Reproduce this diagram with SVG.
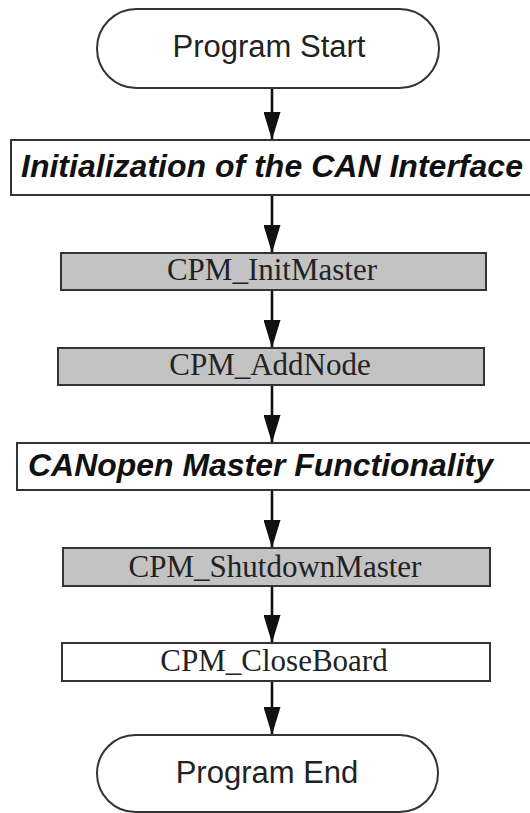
<svg xmlns="http://www.w3.org/2000/svg" width="530" height="813" viewBox="0 0 530 813">
  <style>
    .box { stroke: #333; stroke-width: 2; }
    .plain { fill: #fff; }
    .shade { fill: #c3c3c3; }
    .sans { font-family: "Liberation Sans", Arial, sans-serif; font-size: 31px; fill: #222; text-anchor: middle; }
    .head { font-family: "Liberation Sans", Arial, sans-serif; font-size: 32px; font-weight: bold; font-style: italic; fill: #111; }
    .serif { font-family: "Liberation Serif", "Times New Roman", serif; font-size: 31px; fill: #222; text-anchor: middle; }
    .flow { stroke: #111; stroke-width: 2.6; fill: none; marker-end: url(#arrow); }
  </style>
  <defs>
    <marker id="arrow" markerUnits="userSpaceOnUse" markerWidth="28" markerHeight="17" refX="28" refY="8.5" orient="auto" viewBox="0 0 28 17">
      <path d="M0,0 L28,8.5 L0,17 z" fill="#111"/>
    </marker>
  </defs>
  <rect width="530" height="813" fill="#fff"/>

  <g id="connectors">
    <line class="flow" x1="272" y1="88" x2="272" y2="140"/>
    <line class="flow" x1="272" y1="195" x2="272" y2="253"/>
    <line class="flow" x1="272" y1="290" x2="272" y2="348"/>
    <line class="flow" x1="272" y1="385" x2="272" y2="443"/>
    <line class="flow" x1="272" y1="490" x2="272" y2="548"/>
    <line class="flow" x1="272" y1="586" x2="272" y2="643"/>
    <line class="flow" x1="272" y1="681" x2="272" y2="735"/>
  </g>

  <g id="program-start">
    <rect class="box plain" x="97" y="9" width="342" height="79" rx="39.5"/>
    <text class="sans" x="269" y="57">Program Start</text>
  </g>

  <g id="init-can-interface">
    <rect class="box plain" x="11" y="140" width="530" height="55"/>
    <text class="head" x="21" y="177" textLength="502" lengthAdjust="spacingAndGlyphs">Initialization of the CAN Interface</text>
  </g>

  <g id="cpm-initmaster">
    <rect class="box shade" x="61" y="253" width="425" height="37"/>
    <text class="serif" x="272" y="280">CPM_InitMaster</text>
  </g>

  <g id="cpm-addnode">
    <rect class="box shade" x="58" y="348" width="426" height="37"/>
    <text class="serif" x="270" y="375">CPM_AddNode</text>
  </g>

  <g id="canopen-master">
    <rect class="box plain" x="17" y="443" width="530" height="47"/>
    <text class="head" x="28" y="476" textLength="465" lengthAdjust="spacingAndGlyphs">CANopen Master Functionality</text>
  </g>

  <g id="cpm-shutdownmaster">
    <rect class="box shade" x="63" y="548" width="427" height="38"/>
    <text class="serif" x="275" y="577">CPM_ShutdownMaster</text>
  </g>

  <g id="cpm-closeboard">
    <rect class="box plain" x="62" y="643" width="428" height="38"/>
    <text class="serif" x="274" y="671">CPM_CloseBoard</text>
  </g>

  <g id="program-end">
    <rect class="box plain" x="97" y="735" width="341" height="77" rx="38.5"/>
    <text class="sans" x="267" y="783">Program End</text>
  </g>
</svg>
